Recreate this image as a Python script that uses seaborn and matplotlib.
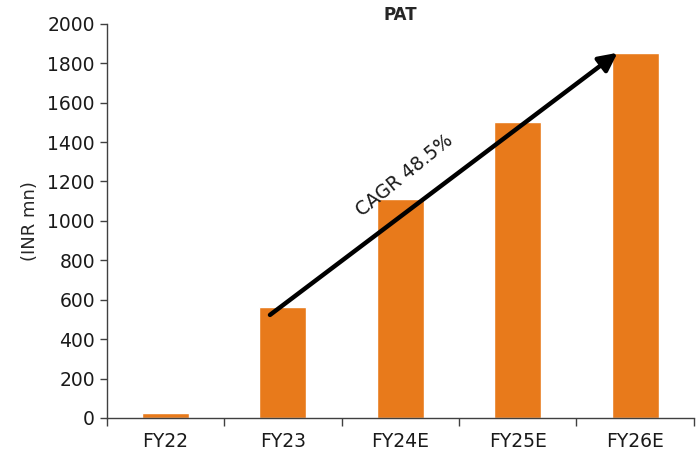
import matplotlib
matplotlib.use("Agg")
import matplotlib.pyplot as plt
import seaborn as sns
import pandas as pd

years = ["FY22", "FY23", "FY24E", "FY25E", "FY26E"]
pat = [25, 563, 1112, 1503, 1853]
cagr_label = "CAGR 48.5%"

sns.set_style("white")
plt.rcParams["font.family"] = ["DejaVu Sans"]

df = pd.DataFrame({"year": years, "pat": pat})

fig = plt.figure(figsize=(6.98, 4.61), dpi=100)
ax = fig.add_axes([0.153, 0.0933, 0.841, 0.855])

sns.barplot(data=df, x="year", y="pat", color="#E87A1B", saturation=1,
            width=0.4, ax=ax)

ax.set_xlim(-0.5, len(years) - 0.5)
ax.set_ylim(0, 2000)
ax.set_yticks(range(0, 2001, 200))
ax.set_xlabel("")
ax.set_ylabel("(INR mn)", fontsize=13, labelpad=6)
ax.set_title("PAT", fontsize=12, fontweight="bold", pad=-2)

for s in ["top", "right"]:
    ax.spines[s].set_visible(False)
for s in ["left", "bottom"]:
    ax.spines[s].set_color("#404040")
    ax.spines[s].set_linewidth(1.0)

# category boundary ticks on the x axis
ax.set_xticks([i - 0.5 for i in range(len(years) + 1)], minor=True)
ax.tick_params(axis="x", which="major", bottom=True, length=0, labelsize=13.5, pad=10, colors="#1a1a1a")
ax.tick_params(axis="x", which="minor", bottom=True, length=6, width=1, direction="out", color="#404040")
ax.tick_params(axis="y", left=True, length=5, width=1, direction="out", labelsize=13.5, color="#404040", labelcolor="#1a1a1a")

# growth arrow from FY23 to FY26E
ax.annotate("", xy=(3.85, pat[4]), xytext=(0.89, 523),
            arrowprops=dict(arrowstyle="-|>,head_length=1.1,head_width=0.55",
                            color="black", lw=3.2, shrinkA=0, shrinkB=0))
ax.text(2.04, 1233, cagr_label, rotation=39, ha="center", va="center",
        fontsize=13.5, color="#1a1a1a", rotation_mode="anchor")

fig.savefig("out.png", dpi=100)
